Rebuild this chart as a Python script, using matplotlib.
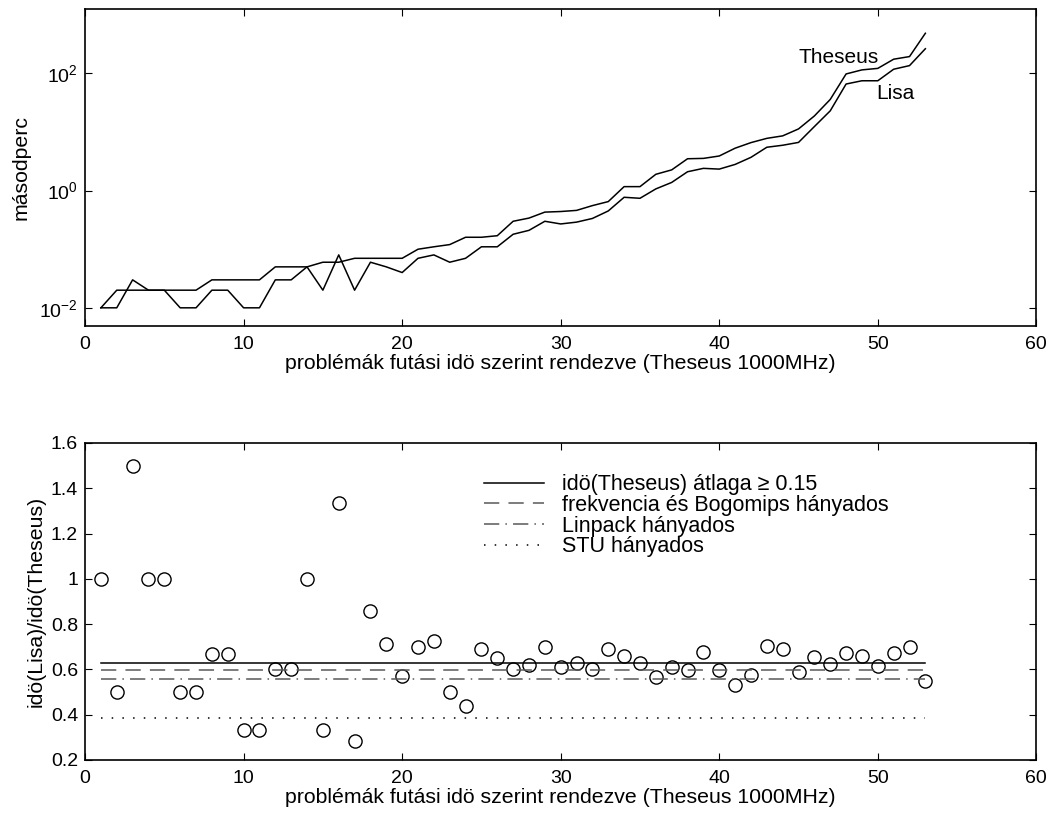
import numpy as np
import matplotlib
matplotlib.use("Agg")
import matplotlib.pyplot as plt

plt.rcParams['font.family'] = ['Liberation Sans', 'DejaVu Sans']

# problem index (sorted by Theseus run time)
n = np.arange(1, 54)

# run times in seconds
theseus = [0.01, 0.02, 0.02, 0.02, 0.02, 0.02, 0.02, 0.03, 0.03, 0.03,
           0.03, 0.05, 0.05, 0.05, 0.06, 0.06, 0.07, 0.07, 0.07, 0.07,
           0.10, 0.11, 0.12, 0.16, 0.16, 0.17, 0.30, 0.34, 0.43, 0.44,
           0.46, 0.555, 0.65, 1.17, 1.17, 1.9, 2.26, 3.5, 3.55, 3.9,
           5.3, 6.6, 7.8, 8.6, 11.3, 18.8, 36, 98, 115, 122,
           175, 194, 485]
lisa = [0.01, 0.01, 0.03, 0.02, 0.02, 0.01, 0.01, 0.02, 0.02, 0.01,
        0.01, 0.03, 0.03, 0.05, 0.02, 0.08, 0.02, 0.06, 0.05, 0.04,
        0.07, 0.08, 0.06, 0.07, 0.11, 0.11, 0.18, 0.21, 0.30, 0.27,
        0.29, 0.335, 0.45, 0.77, 0.74, 1.07, 1.38, 2.1, 2.4, 2.33,
        2.8, 3.7, 5.5, 5.95, 6.65, 12.4, 23, 66, 75, 75,
        118, 136, 264]

# ratio idö(Lisa)/idö(Theseus)
ratio = [1.0, 0.5, 1.5, 1.0, 1.0, 0.5, 0.5, 0.667, 0.667, 0.333,
         0.333, 0.6, 0.6, 1.0, 0.333, 1.333, 0.286, 0.857, 0.714, 0.571,
         0.70, 0.727, 0.5, 0.4375, 0.689, 0.649, 0.6, 0.618, 0.698, 0.612,
         0.630, 0.6, 0.692, 0.659, 0.627, 0.565, 0.612, 0.597, 0.676, 0.596,
         0.533, 0.577, 0.704, 0.690, 0.589, 0.656, 0.624, 0.674, 0.661, 0.614,
         0.671, 0.70, 0.548]

# reference levels
avg_level = 0.627       # idö(Theseus) átlaga >= 0.15
bogo_level = 0.596      # frekvencia és Bogomips hányados
linpack_level = 0.556   # Linpack hányados
stu_level = 0.384       # STU hányados

xlab = 'problémák futási idö szerint rendezve (Theseus 1000MHz)'

fig = plt.figure(figsize=(10.5, 8.17), dpi=100)
ax1 = fig.add_axes([0.081, 0.601, 0.906, 0.388])
ax2 = fig.add_axes([0.081, 0.0698, 0.906, 0.388])

for ax in (ax1, ax2):
    ax.tick_params(direction='in', top=True, right=True, labelsize=14, length=5)
    ax.tick_params(axis='x', pad=7)
    ax.tick_params(axis='y', pad=5)
    for s in ax.spines.values():
        s.set_linewidth(1.2)

# top: run times
ax1.semilogy(n, theseus, color='k', lw=1.1)
ax1.semilogy(n, lisa, color='k', lw=1.1)
ax1.set_xlim(0, 60)
ax1.set_ylim(10 ** -2.31, 10 ** 3.1)
ax1.set_yticks([1e-2, 1e0, 1e2])
ax1.minorticks_off()
ax1.set_xticks(range(0, 61, 10))
ax1.set_xlabel(xlab, fontsize=15.3, labelpad=1)
ax1.set_ylabel('másodperc', fontsize=15.3, labelpad=6)
ax1.text(45.0, 184, 'Theseus', fontsize=15, va='center')
ax1.text(49.9, 46, 'Lisa', fontsize=15, va='center')

# bottom: ratios
ax2.plot(n, ratio, 'o', ms=9.5, mfc='none', mec='k', mew=1.0)
xs = [n[0], n[-1]]
ax2.plot(xs, [avg_level] * 2, color='k', lw=1.1,
         label='idö(Theseus) átlaga ≥ 0.15')
ax2.plot(xs, [bogo_level] * 2, color='0.35', lw=1.1, dashes=(10, 6),
         label='frekvencia és Bogomips hányados')
ax2.plot(xs, [linpack_level] * 2, color='0.35', lw=1.1, dashes=(10, 4, 1, 4),
         label='Linpack hányados')
ax2.plot(xs, [stu_level] * 2, color='k', lw=1.1, dashes=(1, 6),
         label='STU hányados')
ax2.set_xlim(0, 60)
ax2.set_ylim(0.2, 1.6)
ax2.set_xticks(range(0, 61, 10))
yt = [0.2, 0.4, 0.6, 0.8, 1.0, 1.2, 1.4, 1.6]
ax2.set_yticks(yt)
ax2.set_yticklabels(['%g' % v for v in yt])
ax2.set_xlabel(xlab, fontsize=15.3, labelpad=1)
ax2.set_ylabel('idö(Lisa)/idö(Theseus)', fontsize=15.3, labelpad=4)
ax2.legend(loc='upper left', bbox_to_anchor=(0.41, 0.928),
           frameon=False, fontsize=15.5, handlelength=2.8, handletextpad=0.85,
           labelspacing=-0.02, borderaxespad=0)

fig.savefig('out.png', dpi=100)
